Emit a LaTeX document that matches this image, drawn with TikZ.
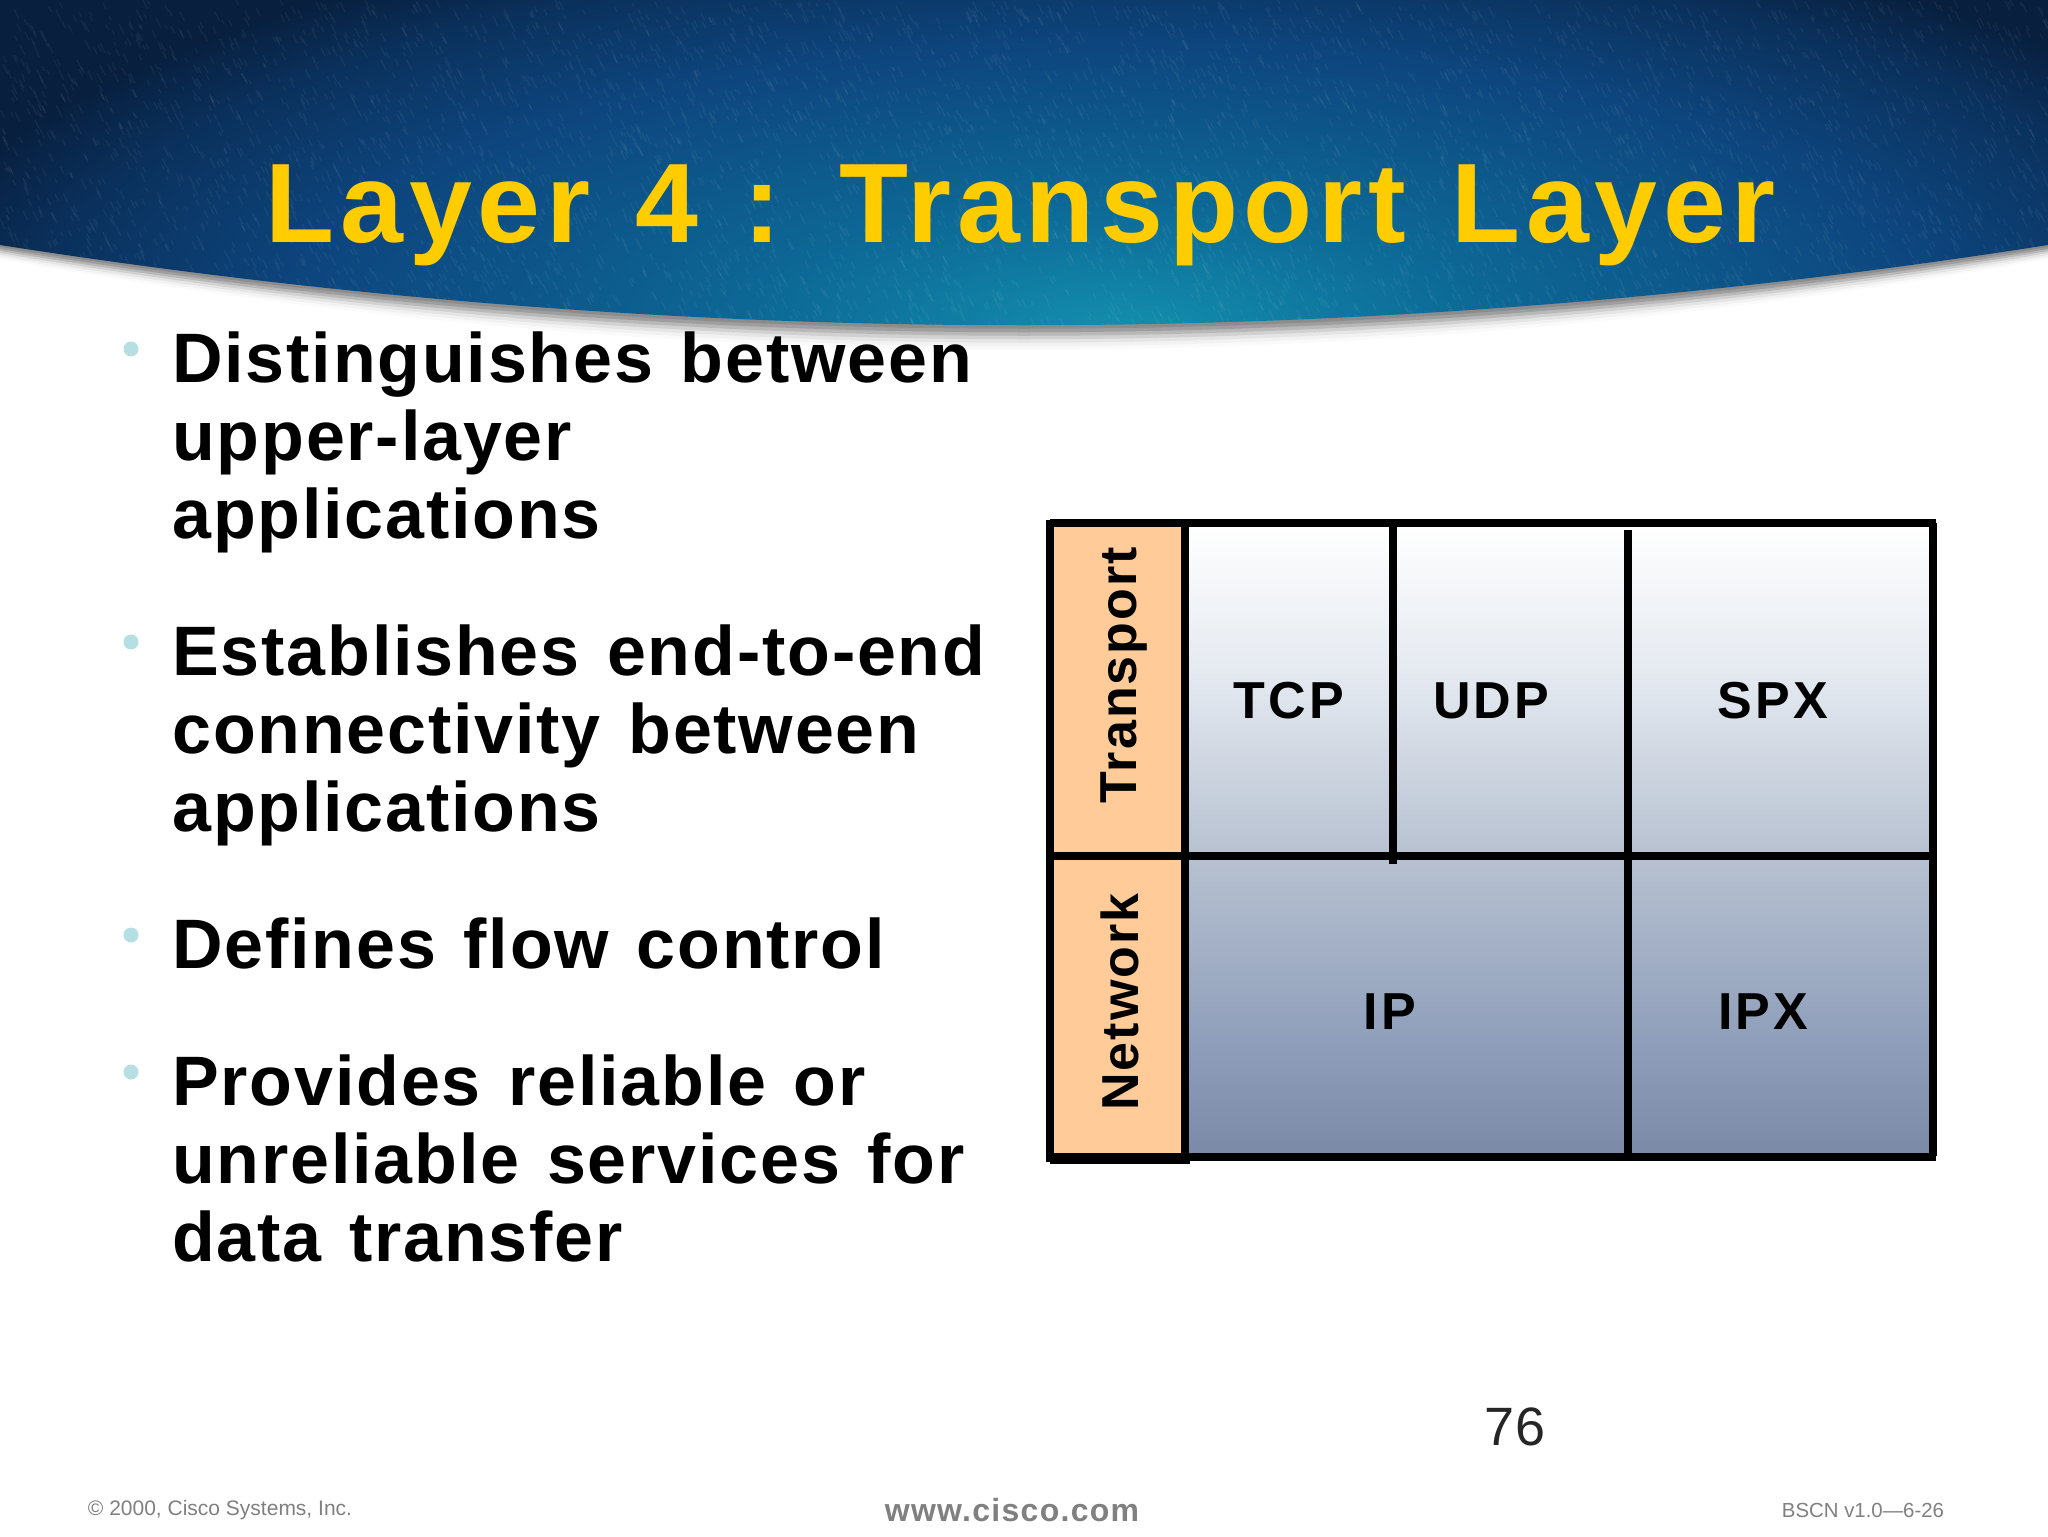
\documentclass[tikz,border=0pt]{standalone}
\usepackage{fontspec}
\setmainfont{Liberation Sans}
\newfontfamily\bodyface[LetterSpace=2.6,WordSpace=1.3]{Liberation Sans}
\newfontfamily\titleface[LetterSpace=5,WordSpace=1.23]{Liberation Sans}
\usetikzlibrary{calc}
\definecolor{titleyellow}{HTML}{FFCC00}
\definecolor{bulletblue}{HTML}{B5DFE3}
\definecolor{labelorange}{HTML}{FFCC99}
\definecolor{footgrey}{HTML}{808080}
\pgfdeclareradialshading{hdrglow}{\pgfpoint{0bp}{0bp}}{
 rgb(0bp)=(0.075,0.56,0.68);
 rgb(7bp)=(0.05,0.41,0.59);
 rgb(16bp)=(0.05,0.27,0.49);
 rgb(21bp)=(0.04,0.19,0.36);
 rgb(24bp)=(0.03,0.12,0.24);
 rgb(50bp)=(0.03,0.12,0.24)}
\pgfdeclareverticalshading{cellgrad}{100bp}{
 rgb(0bp)=(0.48,0.54,0.65);
 rgb(25bp)=(0.48,0.54,0.65);
 rgb(34bp)=(0.56,0.62,0.73);
 rgb(49bp)=(0.72,0.76,0.82);
 rgb(62.5bp)=(0.89,0.91,0.94);
 rgb(75bp)=(1,1,1);
 rgb(100bp)=(1,1,1)}
\tikzset{
 txt/.style={inner sep=0pt,anchor=base west,text=black},
 body/.style={txt,font=\bodyface\fontsize{35}{35}\selectfont\bfseries},
 celltxt/.style={inner sep=0pt,anchor=center,text=black,font=\fontsize{26}{26}\selectfont\bfseries\addfontfeature{LetterSpace=6}},
 sidetxt/.style={inner sep=0pt,anchor=center,text=black,rotate=90,font=\fontsize{26}{26}\selectfont\bfseries\addfontfeature{LetterSpace=4}},
 foot/.style={inner sep=0pt,anchor=center,text=footgrey},
 bulletdot/.style={circle,fill=bulletblue,inner sep=0pt,minimum size=15pt*0.5},
 tline/.style={line width=3.7pt,draw=black,line cap=butt}
}
\begin{document}
\begin{tikzpicture}[x=0.5pt,y=-0.5pt]
\useasboundingbox (0,0) rectangle (2048,1536);
\fill[white] (0,0) rectangle (2048,1536);
% header shadow
\foreach \o/\g in {28/98,24/95,20/90,16/82,12/72,8/62,4/55}{
 \fill[black!\the\numexpr100-\g\relax!white] (0,0) -- (0,245+0.5*\o) .. controls (683,352+\o) and (1365,352+\o) .. (2048,245+0.5*\o) -- (2048,0) -- cycle;
}
% header
\begin{scope}
\clip (0,0) -- (0,245) .. controls (683,352) and (1365,352) .. (2048,245) -- (2048,0) -- cycle;
\shade[shading=hdrglow] (-180,-120) rectangle (2420,780);
\pgfmathsetseed{42}
\foreach \i in {1,...,5000}{
 \pgfmathsetmacro{\xx}{random(0,2048)}
 \pgfmathsetmacro{\yy}{random(0,335)}
 \pgfmathsetmacro{\ll}{random(4,10)}
 \draw[white,opacity=0.05,line width=0.7pt] (\xx,\yy) -- ++(0.5*\ll,\ll);
}
\end{scope}
% title
\node[txt,text=titleyellow,font=\titleface\fontsize{56.5}{56.5}\selectfont\bfseries] (title) at (265.5,242) {Layer 4 : Transport Layer};
% bullets
\node[bulletdot] (b1) at (131,349) {};
\node[bulletdot] (b2) at (131,642) {};
\node[bulletdot] (b3) at (131,935) {};
\node[bulletdot] (b4) at (131,1072) {};
\node[body] (t1a) at (172,382) {Distinguishes between};
\node[body] (t1b) at (172,460) {upper-layer};
\node[body] (t1c) at (172,538) {applications};
\node[body] (t2a) at (172,675) {Establishes end-to-end};
\node[body] (t2b) at (172,753) {connectivity between};
\node[body] (t2c) at (172,831) {applications};
\node[body] (t3a) at (172,968) {Defines flow control};
\node[body] (t4a) at (172,1105) {Provides reliable or};
\node[body] (t4b) at (172,1183) {unreliable services for};
\node[body] (t4c) at (172,1261) {data transfer};
% table
\fill[labelorange] (1050,523) rectangle (1185,1160);
\shade[shading=cellgrad] (1185,523) rectangle (1933,1156);
\draw[tline] (1050,523) -- (1936,523);
\draw[tline] (1933,523) -- (1933,1156);
\draw[tline] (1050,1157) -- (1936,1157);
\draw[tline] (1050,1160) -- (1190,1160);
\draw[tline] (1050,520) -- (1050,1162);
\draw[tline] (1185,520) -- (1185,1162);
\draw[tline] (1050,856) -- (1933,856);
\draw[tline] (1393,523) -- (1393,864);
\draw[tline] (1628,530) -- (1628,1156);
% cell labels
\node[celltxt] (tcp) at (1289,701) {TCP};
\node[celltxt] (udp) at (1491,701) {UDP};
\node[celltxt] (spx) at (1773,701) {SPX};
\node[celltxt] (ip) at (1390,1012) {IP};
\node[celltxt] (ipx) at (1763,1012) {IPX};
\node[sidetxt] (transport) at (1124,675) {Transport};
\node[sidetxt] (network) at (1120,1002) {Network};
% footer
\node[inner sep=0pt,anchor=center,text=black!85,font=\fontsize{27}{27}\selectfont] (page) at (1515,1427) {76};
\node[foot,font=\fontsize{10.5}{10.5}\selectfont] (copy) at (220,1510) {© 2000, Cisco Systems, Inc.};
\node[foot,font=\fontsize{16}{16}\selectfont\bfseries\addfontfeature{LetterSpace=4}] (web) at (1012,1510) {www.cisco.com};
\node[foot,font=\fontsize{10.2}{10.2}\selectfont] (ver) at (1863,1510) {BSCN v1.0—6-26};
\end{tikzpicture}
\end{document}
